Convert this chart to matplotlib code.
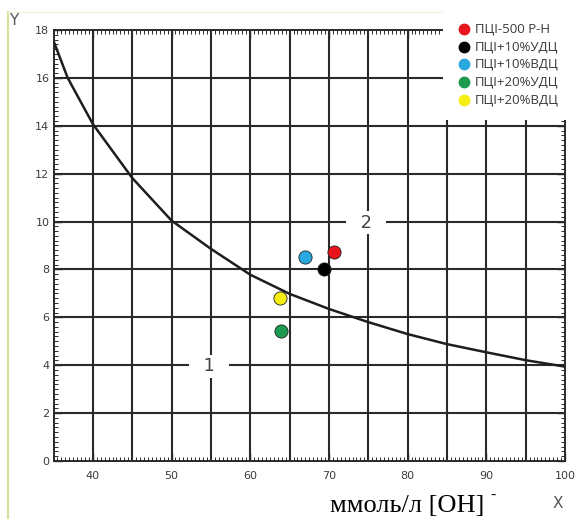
import numpy as np
import matplotlib.pyplot as plt
from matplotlib.ticker import MultipleLocator
from matplotlib.lines import Line2D
from matplotlib.patches import Rectangle

# boundary curve
curve_x = [35.1, 36.8, 40.0, 45.0, 50.0, 55.0, 60.0, 65.0, 70.0, 75.0, 80.0, 85.0, 90.0, 95.0, 100.0]
curve_y = [17.46, 16.0, 14.07, 11.82, 10.04, 8.86, 7.78, 6.98, 6.35, 5.80, 5.30, 4.88, 4.54, 4.21, 3.94]

# measured mixes
labels = ["ПЦІ-500 Р-Н", "ПЦІ+10%УДЦ", "ПЦІ+10%ВДЦ", "ПЦІ+20%УДЦ", "ПЦІ+20%ВДЦ"]
pts_x = [70.6, 69.35, 66.9, 63.85, 63.75]
pts_y = [8.72, 8.03, 8.53, 5.43, 6.79]
colors = ["#e8141c", "#000000", "#29a8e0", "#1e9a50", "#f5ee10"]

fig = plt.figure(figsize=(5.78, 5.19), dpi=100)
ax = fig.add_axes([0.0926, 0.1118, 0.8849, 0.8304])
ax.set_xlim(35, 100)
ax.set_ylim(0, 18)

ink = "#2a2a2a"
for gx in range(40, 100, 5):
    ax.axvline(gx, color=ink, lw=1.5, zorder=1)
for gy in range(2, 18, 2):
    ax.axhline(gy, color=ink, lw=1.5, zorder=1)

for s in ax.spines.values():
    s.set_color(ink)
    s.set_linewidth(1.4)

ax.xaxis.set_major_locator(MultipleLocator(10))
ax.yaxis.set_major_locator(MultipleLocator(2))
ax.xaxis.set_minor_locator(MultipleLocator(0.5))
ax.yaxis.set_minor_locator(MultipleLocator(0.2))
ax.tick_params(which="both", direction="in", top=True, right=True, color=ink)
ax.tick_params(which="major", length=6, width=1.0, labelsize=8, labelcolor="#3c3c3c")
ax.tick_params(axis="x", which="major", pad=7)
ax.tick_params(axis="y", which="major", pad=3)
ax.tick_params(which="minor", length=3, width=0.7)

ax.plot(curve_x, curve_y, color="#1e1e1e", lw=1.8, zorder=3, solid_joinstyle="round")

# region numbers, with breaks cut into the grid around them
ax.text(54.8, 3.95, "  1  ", fontsize=13, color="#444444", ha="center", va="center", zorder=4,
        bbox=dict(facecolor="white", edgecolor="none", boxstyle="square,pad=0.15"))
ax.text(74.7, 9.95, "  2  ", fontsize=13, color="#444444", ha="center", va="center", zorder=4,
        bbox=dict(facecolor="white", edgecolor="none", boxstyle="square,pad=0.15"))

for x, y, c in zip(pts_x, pts_y, colors):
    ax.scatter(x, y, s=90, color=c, edgecolors="#222222", linewidths=0.6, zorder=5)

# legend block in the top right corner, on a white patch over the grid
fig.add_artist(Rectangle((0.766, 0.769), 0.234, 0.231, transform=fig.transFigure,
                         facecolor="white", edgecolor="none", zorder=10))
for i, (lab, c) in enumerate(zip(labels, colors)):
    yy = 0.944 - i * 0.0341
    fig.add_artist(Line2D([0.802], [yy], marker="o", markersize=7.5, color=c,
                          markeredgecolor=c, transform=fig.transFigure, zorder=11))
    fig.text(0.822, yy, lab, color="#3a3a3a", fontsize=9.5, ha="left", va="center",
             family="Open Sans", zorder=11)

fig.text(0.024, 0.961, "Y", fontsize=11, color="#555555", ha="center", va="center")
fig.text(0.965, 0.029, "X", fontsize=11, color="#555555", ha="center", va="center")
fig.text(0.571, 0.014, "ммоль/л [OH]", fontsize=19, family="Liberation Serif",
         ha="left", va="baseline")
fig.text(0.848, 0.046, "-", fontsize=11, family="Liberation Serif", ha="left", va="center")

# scan border on the left and top
fig.add_artist(Line2D([0.014, 0.014], [0.0, 0.977], color="#cfe59a", lw=1.5))
fig.add_artist(Line2D([0.014, 1.0], [0.977, 0.977], color="#eef5dc", lw=1.0))

fig.savefig("out.png", dpi=100)
